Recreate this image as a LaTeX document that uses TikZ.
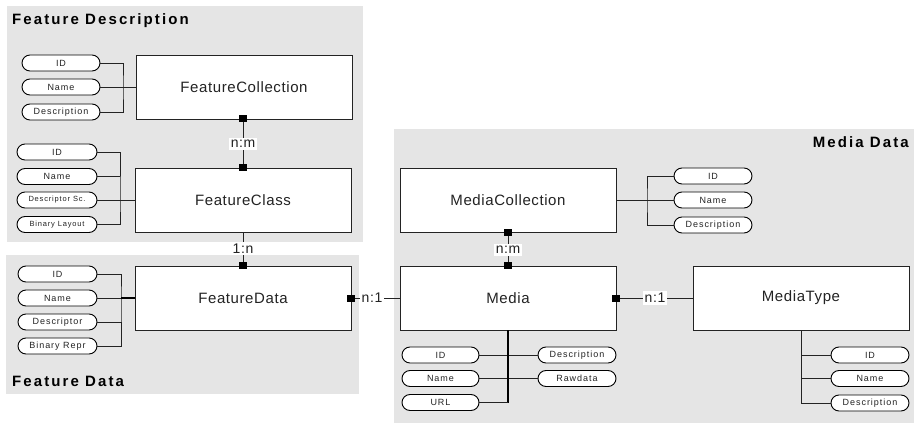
\documentclass[tikz,border=0pt]{standalone}
\usepackage{fontspec}
\setmainfont{Liberation Sans}
\newfontfamily\boxf[LetterSpace=4]{Liberation Sans}
\newfontfamily\attrf[LetterSpace=11]{Liberation Sans}
\newfontfamily\relf[LetterSpace=4]{Liberation Sans}
\newfontfamily\titlef[LetterSpace=14]{Liberation Sans}
\definecolor{panelgray}{RGB}{229,229,229}
\definecolor{ink}{RGB}{35,35,35}
\begin{document}
\begin{tikzpicture}[x=1pt,y=-1pt,
  panel/.style={fill=panelgray,draw=none},
  entity/.style={draw=ink,fill=white,line width=0.9pt,minimum width=216pt,minimum height=64pt,inner sep=0pt,text=ink,font=\boxf\fontsize{15pt}{18pt}\selectfont},
  attr/.style={draw=black,fill=white,line width=0.9pt,rounded corners=8pt,minimum width=78pt,minimum height=16pt,inner sep=0pt,text=ink,font=\attrf\fontsize{9pt}{10pt}\selectfont},
  smallattr/.style={attr,font=\attrf\fontsize{7.5pt}{9pt}\selectfont},
  link/.style={draw=ink,line width=0.9pt},
  thicklink/.style={draw=black,line width=1.8pt},
  card/.style={fill=black,inner sep=0pt,minimum width=8pt,minimum height=7pt},
  rel/.style={fill=white,inner sep=2pt,text=ink,font=\relf\fontsize{14pt}{16pt}\selectfont},
  title/.style={text=black,inner sep=0pt,font=\titlef\bfseries\fontsize{15pt}{18pt}\selectfont}]
\useasboundingbox (0,0) rectangle (914,425);
% panels
\fill[panel] (7,6) rectangle (363,242);
\fill[panel] (6,255) rectangle (359,394);
\fill[panel] (394,129) rectangle (914,423);
\node[title,anchor=base west] (tFD) at (12,25) {Feature Description};
\node[title,anchor=base west] (tFDa) at (12,386) {Feature Data};
\node[title,anchor=base east] (tMD) at (909,148) {Media Data};
% entities
\node[entity] (FC) at (244,87) {FeatureCollection};
\node[entity] (FCl) at (243,200) {FeatureClass};
\node[entity] (FD) at (243,298) {FeatureData};
\node[entity] (MC) at (508,200) {MediaCollection};
\node[entity] (M) at (508,298) {Media};
\node[entity] (MT) at (801,298) {MediaType};
% FeatureCollection attributes
\node[attr] (fcID) at (61,63) {ID};
\node[attr] (fcName) at (61,87) {Name};
\node[attr] (fcDesc) at (61,112) {Description};
\coordinate (fcJ) at (123,87);
\draw[link] (fcID.east) -| (fcJ) |- (fcDesc.east);
\draw[link] (fcName.east) -- (FC.west);
% FeatureClass attributes
\node[attr,minimum width=80pt] (fclID) at (57,152) {ID};
\node[attr,minimum width=80pt] (fclName) at (57,176.5) {Name};
\node[smallattr,minimum width=80pt] (fclDesc) at (57,200) {Descriptor Sc.};
\node[smallattr,minimum width=80pt] (fclBin) at (57,224.5) {Binary Layout};
\coordinate (fclJ) at (120,200);
\draw[link] (fclID.east) -| (fclJ) |- (fclBin.east);
\draw[link] (fclName.east) -- (fclName.east -| fclJ);
\draw[link] (fclDesc.east) -- (FCl.west);
% FeatureData attributes
\node[attr,minimum width=79pt] (fdID) at (57.5,274) {ID};
\node[attr,minimum width=79pt] (fdName) at (57.5,298) {Name};
\node[attr,minimum width=79pt] (fdDesc) at (57.5,322) {Descriptor};
\node[attr,minimum width=79pt] (fdBin) at (57.5,346) {Binary Repr};
\coordinate (fdJ) at (121,298);
\draw[link] (fdID.east) -| (fdJ) |- (fdBin.east);
\draw[link] (fdName.east) -- (fdJ);
\draw[link] (fdDesc.east) -- (fdDesc.east -| fdJ);
\draw[thicklink] (fdJ) -- (FD.west);
% MediaCollection attributes
\node[attr] (mcID) at (713,176) {ID};
\node[attr] (mcName) at (713,200) {Name};
\node[attr] (mcDesc) at (713,225) {Description};
\coordinate (mcJ) at (647,200);
\draw[link] (mcID.west) -| (mcJ) |- (mcDesc.west);
\draw[link] (MC.east) -- (mcName.west);
% Media attributes
\node[attr,minimum width=77pt] (mID) at (440.5,355) {ID};
\node[attr,minimum width=77pt] (mName) at (440.5,378.5) {Name};
\node[attr,minimum width=77pt] (mURL) at (440.5,402.5) {URL};
\node[attr] (mDesc) at (577,355) {Description};
\node[attr] (mRaw) at (577,378.5) {Rawdata};
\draw[link] (mID.east) -- (mDesc.west);
\draw[link] (mName.east) -- (mRaw.west);
\draw[thicklink] (M.south) -- (M.south |- mURL.east);
\draw[link] (M.south |- mURL.east) -- (mURL.east);
% MediaType attributes
\node[attr] (mtID) at (870,355) {ID};
\node[attr] (mtName) at (870,378.5) {Name};
\node[attr] (mtDesc) at (870,403) {Description};
\draw[link] (MT.south) |- (mtDesc.west);
\draw[link] (mtID.west) -- (mtID.west -| MT.south);
\draw[link] (mtName.west) -- (mtName.west -| MT.south);
% relationships
\coordinate (fcB) at (243,119);
\draw[link] (fcB) -- (FCl.north);
\node[card] (c1) at (fcB) {};
\node[card] (c2) at (FCl.north) {};
\node[rel] (r1) at (243,144) {n:m};
\draw[link] (FCl.south) -- (FD.north);
\node[card] (c3) at (FD.north) {};
\node[rel] (r2) at (243,248.5) {1:n};
\draw[link] (FD.east) -- (M.west);
\node[card] (c4) at (FD.east) {};
\node[rel] (r3) at (372,298) {n:1};
\draw[link] (MC.south) -- (M.north);
\node[card] (c5) at (MC.south) {};
\node[card] (c6) at (M.north) {};
\node[rel] (r4) at (508,250) {n:m};
\draw[link] (M.east) -- (MT.west);
\node[card] (c7) at (M.east) {};
\node[rel] (r5) at (655,298) {n:1};
\end{tikzpicture}
\end{document}
